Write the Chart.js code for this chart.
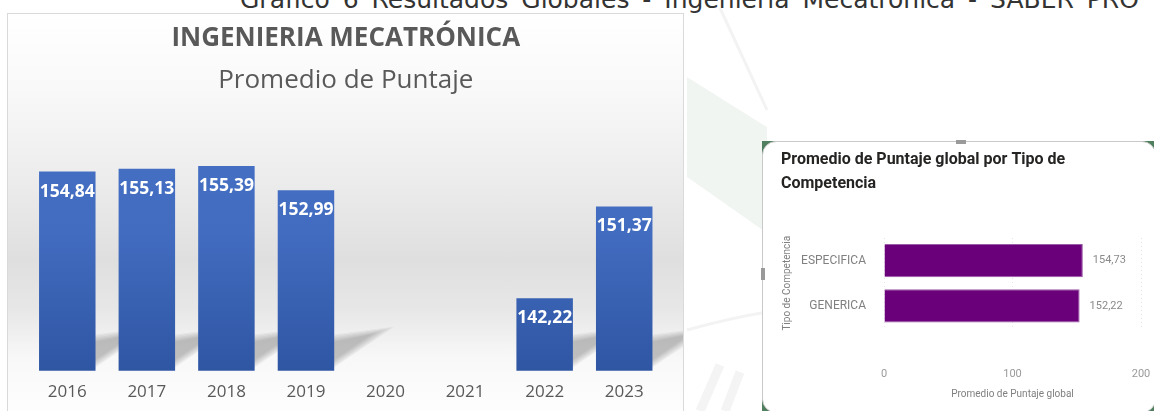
<!DOCTYPE html>
<html>
<head>
<meta charset="utf-8">
<script src="https://cdn.jsdelivr.net/npm/chart.js@4.4.1/dist/chart.umd.min.js"></script>
<style>
  body { margin:0; width:1154px; height:411px; overflow:hidden; background:#fff; position:relative; font-family:'Open Sans', sans-serif; }
  #marca { position:absolute; left:0; top:0; }
  #caption { position:absolute; left:240px; top:-13px; font-family:'DejaVu Sans', sans-serif; font-size:25px; line-height:25px; color:#333; white-space:nowrap; word-spacing:5px; }
  #left { position:absolute; left:7px; top:13px; width:675px; height:410px; border:1px solid #dadada;
    background:linear-gradient(to bottom, #ffffff 0%, #f8f8f8 20%, #ebebeb 42%, #dfdfdf 60%, #e7e7e7 72%, #f8f8f8 84%, #ffffff 100%); }
  #rightWrap { position:absolute; left:762px; top:141px; width:396px; height:274px; background:#4f7f5e; }
  #right { position:absolute; left:0; top:0; width:392px; height:270px; background:#fff; border:1px solid #c9c9c9; border-radius:14px; overflow:hidden; }
  .handle { position:absolute; background:#9a9a9a; }
  canvas { position:absolute; left:0; top:0; }
</style>
</head>
<body>
<svg id="marca" width="1154" height="411">
  <polygon points="687,77 767,127 767,233 687,177" fill="#f1f5f2"/>
  <path d="M720,8 L767,110" stroke="#f3f3f3" stroke-width="3" fill="none"/>
  <path d="M687,330 Q730,318 767,312" stroke="#f3f3f3" stroke-width="3" fill="none"/>
  <path d="M700,411 L720,365 M725,411 L740,372" stroke="#f4f4f4" stroke-width="9" fill="none"/>
</svg>
<div id="caption">Gráfico 6 Resultados Globales - Ingeniería Mecatrónica - SABER PRO</div>
<div id="left"><canvas id="c1" width="675" height="397"></canvas></div>
<div id="rightWrap"><div id="right"><canvas id="c2" width="392" height="270"></canvas></div></div>
<div class="handle" style="left:956px;top:140px;width:10px;height:4px;"></div>
<div class="handle" style="left:761px;top:268px;width:4px;height:12px;"></div>
<script>
// datos
var anios = ['2016', '2017', '2018', '2019', '2020', '2021', '2022', '2023'];
var puntajeAnual = [154.84, 155.13, 155.39, 152.99, null, null, 142.22, 151.37];

var tipos = ['ESPECIFICA', 'GENERICA'];
var puntajeTipo = [154.73, 152.22];

var F1 = "'Open Sans', sans-serif";
var F2 = "Roboto, 'Open Sans', sans-serif";

function fmt(v) { return v.toFixed(2).replace('.', ','); }

// etiquetas de valor
var valueLabels = {
  id: 'valueLabels',
  afterDatasetsDraw: function(chart, args, opts) {
    var ctx = chart.ctx;
    var meta = chart.getDatasetMeta(0);
    ctx.save();
    ctx.font = opts.font;
    ctx.fillStyle = opts.color;
    ctx.textBaseline = 'middle';
    meta.data.forEach(function(bar, i) {
      var v = chart.data.datasets[0].data[i];
      if (v == null) return;
      if (opts.inside) {
        ctx.textAlign = 'center';
        ctx.fillText(fmt(v), bar.x, bar.y + opts.offset);
      } else {
        ctx.textAlign = 'left';
        ctx.fillText(fmt(v), bar.x + opts.offset, bar.y);
      }
    });
    ctx.restore();
  }
};

// sombra detras de las barras (capas suaves)
var barShadow = {
  id: 'barShadow',
  beforeDatasetsDraw: function(chart) {
    var ctx = chart.ctx;
    var meta = chart.getDatasetMeta(0);
    var base = chart.scales.y.getPixelForValue(135);
    ctx.save();
    meta.data.forEach(function(bar, i) {
      if (chart.data.datasets[0].data[i] == null) return;
      var r = bar.x + bar.width / 2;
      for (var k = 0; k < 6; k++) {
        var s = k * 1.5;
        ctx.fillStyle = 'rgba(80,80,80,0.07)';
        ctx.beginPath();
        ctx.moveTo(r - 2, base - 36 + s);
        ctx.lineTo(r + 60 - s * 3, base - 44 + s);
        ctx.lineTo(r - 2, base - 2 - s);
        ctx.closePath();
        ctx.fill();
      }
    });
    ctx.restore();
  }
};

new Chart(document.getElementById('c1'), {
  type: 'bar',
  data: {
    labels: anios,
    datasets: [{
      data: puntajeAnual,
      backgroundColor: function(c) {
        var area = c.chart.chartArea;
        if (!area) return '#3d67b8';
        var g = c.chart.ctx.createLinearGradient(0, area.top, 0, area.bottom);
        g.addColorStop(0, '#4670c3');
        g.addColorStop(0.45, '#426cc0');
        g.addColorStop(1, '#2f56a3');
        return g;
      },
      barPercentage: 0.71,
      categoryPercentage: 1
    }]
  },
  options: {
    responsive: false,
    animation: false,
    layout: { padding: { left: 19.5, right: 19, top: 0, bottom: 10.3 } },
    plugins: {
      legend: { display: false },
      tooltip: { enabled: false },
      title: { display: true, text: 'INGENIERIA MECATRÓNICA', color: '#595959',
        font: { family: F1, size: 26, weight: 'bold' }, padding: { top: 9, bottom: 4 } },
      subtitle: { display: true, text: 'Promedio de Puntaje', color: '#595959',
        font: { family: F1, size: 26 }, padding: { top: 6.8, bottom: 23.6 } },
      valueLabels: { inside: true, offset: 20, color: '#ffffff', font: 'bold 17.5px ' + F1 }
    },
    scales: {
      x: {
        afterFit: function(s) { s.height = 30; },
        grid: { display: false, drawTicks: false },
        border: { display: false },
        ticks: { color: '#595959', font: { family: F1, size: 17 }, padding: 10.8 }
      },
      y: { display: false, min: 135, max: 160 }
    }
  },
  plugins: [barShadow, valueLabels]
});

new Chart(document.getElementById('c2'), {
  type: 'bar',
  data: {
    labels: tipos,
    datasets: [{
      data: puntajeTipo,
      backgroundColor: '#6b007b',
      borderColor: '#9b5aa6',
      borderWidth: 1,
      barPercentage: 0.73,
      categoryPercentage: 1
    }]
  },
  options: {
    indexAxis: 'y',
    responsive: false,
    animation: false,
    layout: { padding: { left: 18, right: 14, top: 0, bottom: 12 } },
    plugins: {
      legend: { display: false },
      tooltip: { enabled: false },
      title: { display: true, align: 'start', text: ['Promedio de Puntaje global por Tipo de', 'Competencia'],
        color: '#252423', font: { family: F2, size: 16, weight: 'bold', lineHeight: 1.5 },
        padding: { top: 6, bottom: 42 } },
      valueLabels: { inside: false, offset: 10, color: '#8a8a8a', font: '11px ' + F2 }
    },
    scales: {
      x: {
        min: 0, max: 200,
        afterFit: function(s) { s.height = 71.5; s.paddingLeft = 0; s.paddingRight = 10; },
        grid: { color: '#e4e4e4', drawTicks: false },
        border: { display: false, dash: [1, 3] },
        ticks: { stepSize: 100, color: '#9a9a9a', font: { family: F2, size: 11 }, padding: 39 },
        title: { display: true, text: 'Promedio de Puntaje global', color: '#7f7f7f',
          font: { family: F2, size: 10 }, padding: { top: 7, bottom: 0 } }
      },
      y: {
        afterFit: function(s) { s.width = 103; },
        grid: { display: false },
        border: { display: false },
        ticks: { color: '#808080', font: { family: F2, size: 12 }, padding: 10 },
        title: { display: true, text: 'Tipo de Competencia', color: '#808080',
          font: { family: F2, size: 10 }, padding: 0 }
      }
    }
  },
  plugins: [valueLabels]
});
</script>
</body>
</html>
